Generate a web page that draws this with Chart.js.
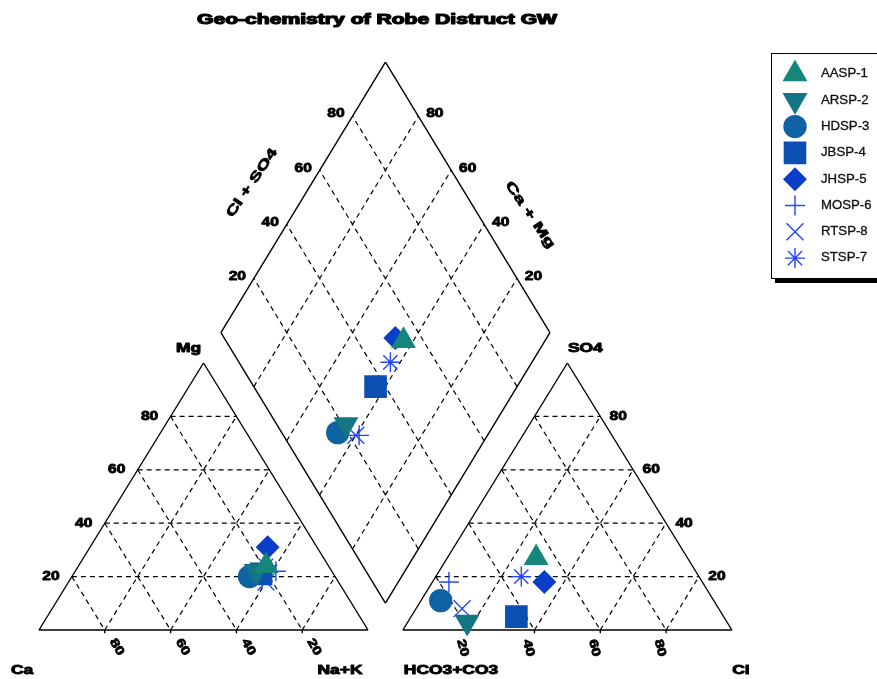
<!DOCTYPE html>
<html><head><meta charset="utf-8">
<script src="https://cdn.jsdelivr.net/npm/chart.js@4"></script>
<style>html,body{margin:0;padding:0;background:#fff;overflow:hidden}#wrap{width:877px;height:679px}</style>
</head><body><div id="wrap"><canvas id="c" width="877" height="679"></canvas></div>
<script>
// ---------- data (percent of meq) ----------
const samples = ['AASP-1','ARSP-2','HDSP-3','JBSP-4','JHSP-5','MOSP-6','RTSP-8','STSP-7'];
const caPct   = [19, 23, 26, 22, 15, 17, 22, 19];
const mgPct   = [24, 22, 20, 21, 31, 22, 18, 24];
const naKPct  = [57, 55, 54, 57, 54, 61, 60, 57];
const hco3Pct = [46, 79, 83, 63, 48, 77, 78, 54];
const so4Pct  = [27,  3, 11,  5, 18, 18,  8, 20];
const clPct   = [27, 18,  6, 32, 34,  5, 14, 26];
const gridTicks  = [20, 40, 60, 80];
const tickLabels = ['20', '40', '60', '80'];
const titleText = 'Geo-chemistry of Robe Distruct GW';

// ---------- styles ----------
const markerStyles = [
  {pointStyle:'triangle', rotation:0,   radius:13, color:'#15877a'},
  {pointStyle:'triangle', rotation:180, radius:13, color:'#147585'},
  {pointStyle:'circle',   rotation:0,   radius:11, color:'#0f62a3'},
  {pointStyle:'rect',     rotation:0,   radius:15, color:'#0b4fb3'},
  {pointStyle:'rectRot',  rotation:0,   radius:11, color:'#0a3ec9'},
  {pointStyle:'cross',    rotation:0,   radius:10, color:'#2444ff'},
  {pointStyle:'crossRot', rotation:0,   radius:12, color:'#2444ff'},
  {pointStyle:'star',     rotation:0,   radius:10, color:'#2444ff'}
];

// ---------- Piper geometry (units: triangle base = 1 in x, triangle height = 1 in y) ----------
const GAP = 0.106;
const DIA = {bx: 1 + GAP / 2, by: 0.101, h: 1.013};
function cationXY(ca, mg, nak) { return {x: nak / 100 + mg / 200, y: mg / 100}; }
function anionXY(hco3, so4, cl) { return {x: 1 + GAP + cl / 100 + so4 / 200, y: so4 / 100}; }
function diamondXY(camg, clso4) {
  return {x: DIA.bx + 0.5 * (clso4 - camg) / 100, y: DIA.by + DIA.h * (camg + clso4) / 100};
}

const datasets = [];
function seg(p, q, dashed) {
  datasets.push({
    data: [p, q], showLine: true, borderColor: '#000', borderWidth: dashed ? 1.2 : 1.4,
    borderDash: dashed ? [5, 4] : [], pointRadius: 0, pointHoverRadius: 0,
    fill: false, order: 10, clip: false, tension: 0
  });
}
// outlines
seg(cationXY(100,0,0), cationXY(0,0,100)); seg(cationXY(0,0,100), cationXY(0,100,0)); seg(cationXY(0,100,0), cationXY(100,0,0));
seg(anionXY(100,0,0), anionXY(0,0,100)); seg(anionXY(0,0,100), anionXY(0,100,0)); seg(anionXY(0,100,0), anionXY(100,0,0));
seg(diamondXY(0,0), diamondXY(100,0)); seg(diamondXY(100,0), diamondXY(100,100));
seg(diamondXY(100,100), diamondXY(0,100)); seg(diamondXY(0,100), diamondXY(0,0));
// grids
gridTicks.forEach(v => {
  seg(cationXY(100 - v, v, 0), cationXY(0, v, 100 - v), true);
  seg(cationXY(v, 100 - v, 0), cationXY(v, 0, 100 - v), true);
  seg(cationXY(100 - v, 0, v), cationXY(0, 100 - v, v), true);
  seg(anionXY(100 - v, v, 0), anionXY(0, v, 100 - v), true);
  seg(anionXY(v, 100 - v, 0), anionXY(v, 0, 100 - v), true);
  seg(anionXY(100 - v, 0, v), anionXY(0, 100 - v, v), true);
  seg(diamondXY(v, 0), diamondXY(v, 100), true);
  seg(diamondXY(0, v), diamondXY(100, v), true);
  // small base ticks
  const c = cationXY(100 - v, 0, v), a = anionXY(100 - v, 0, v);
  seg(c, {x: c.x, y: c.y - 0.012}); seg(a, {x: a.x, y: a.y - 0.012});
});
// sample points
samples.forEach((name, i) => {
  const st = markerStyles[i];
  datasets.push({
    label: name,
    data: [
      cationXY(caPct[i], mgPct[i], naKPct[i]),
      anionXY(hco3Pct[i], so4Pct[i], clPct[i]),
      diamondXY(caPct[i] + mgPct[i], so4Pct[i] + clPct[i])
    ],
    showLine: false, pointStyle: st.pointStyle, rotation: st.rotation,
    pointRadius: st.radius, pointHoverRadius: st.radius,
    backgroundColor: st.color, borderColor: st.color,
    pointBackgroundColor: st.color, pointBorderColor: st.color,
    pointBorderWidth: 1.4, order: 0, clip: false
  });
});

const FONT = '"Liberation Sans", Arial, sans-serif';
function drawText(ctx, text, x, y, o) {
  ctx.save();
  ctx.translate(x, y);
  ctx.rotate(o.rot || 0);
  ctx.font = o.font;
  let sx = o.sx || 1;
  if (o.width) sx = o.width / ctx.measureText(text).width;
  ctx.scale(sx, 1);
  ctx.fillStyle = o.color || '#000';
  ctx.textAlign = o.align || 'center';
  ctx.textBaseline = 'middle';
  ctx.fillText(text, 0, 0);
  if (o.heavy) {
    ctx.strokeStyle = o.color || '#000';
    ctx.lineWidth = o.heavy;
    ctx.lineJoin = 'round';
    ctx.strokeText(text, 0, 0);
  }
  ctx.restore();
}

const decorPlugin = {
  id: 'decor',
  afterDatasetsDraw(chart) {
    const ctx = chart.ctx, sx = chart.scales.x, sy = chart.scales.y;
    const P = p => ({x: sx.getPixelForValue(p.x), y: sy.getPixelForValue(p.y)});
    const tickFont = 'bold 12px ' + FONT, labFont = 'bold 12px ' + FONT;
    const tk = {font: tickFont, sx: 1.3, heavy: 0.8};
    // title
    drawText(ctx, titleText, 377, 20, {font: 'bold 14px ' + FONT, width: 360, heavy: 1.2});
    gridTicks.forEach((v, k) => {
      let p = P(cationXY(100 - v, v, 0));
      drawText(ctx, tickLabels[k], p.x - 21, p.y, tk);
      p = P(cationXY(100 - v, 0, v));
      drawText(ctx, tickLabels[gridTicks.length - 1 - k], p.x + 12, 647, {...tk, rot: Math.PI / 3});
      p = P(anionXY(0, v, 100 - v));
      drawText(ctx, tickLabels[k], p.x + 18, p.y, tk);
      p = P(anionXY(100 - v, 0, v));
      drawText(ctx, tickLabels[k], p.x - 6, 648, {...tk, rot: Math.PI * 0.42});
      p = P(diamondXY(100, v));
      drawText(ctx, tickLabels[k], p.x - 16.5, p.y - 2, tk);
      p = P(diamondXY(v, 100));
      drawText(ctx, tickLabels[k], p.x + 16.5, p.y - 2, tk);
    });
    const lb = {font: labFont, sx: 1.45, heavy: 0.9};
    let ap = P(cationXY(0, 100, 0));
    drawText(ctx, 'Mg', ap.x - 15, ap.y - 14, lb);
    ap = P(anionXY(0, 100, 0));
    drawText(ctx, 'SO4', ap.x + 18, ap.y - 14, lb);
    drawText(ctx, 'Ca', 22, 671, lb);
    drawText(ctx, 'Na+K', 340, 671, lb);
    drawText(ctx, 'HCO3+CO3', 451, 671, lb);
    drawText(ctx, 'Cl', 741, 671, lb);
    drawText(ctx, 'Cl + SO4', 252, 183, {font: 'bold 13px ' + FONT, width: 80, rot: -Math.PI * 0.31, heavy: 0.8});
    drawText(ctx, 'Ca + Mg', 530, 215, {font: 'bold 13px ' + FONT, width: 78, rot: Math.PI * 0.31, heavy: 0.8});

    // legend box
    ctx.save();
    ctx.fillStyle = '#000';
    ctx.fillRect(775, 57, 130, 226);
    ctx.fillStyle = '#fff';
    ctx.fillRect(771, 53, 130, 226);
    ctx.strokeStyle = '#000'; ctx.lineWidth = 1;
    ctx.strokeRect(771.5, 53.5, 130, 225);
    ctx.restore();
    samples.forEach((name, i) => {
      const st = markerStyles[i];
      const y = 74 + i * 26.3;
      ctx.save();
      ctx.fillStyle = st.color; ctx.strokeStyle = st.color; ctx.lineWidth = 1.4;
      Chart.helpers.drawPoint(ctx, {pointStyle: st.pointStyle, rotation: st.rotation, radius: st.radius, borderWidth: 1.4}, 795, y);
      ctx.restore();
      drawText(ctx, name, 821, y, {font: '12px ' + FONT, sx: 1.1, align: 'left', color: '#111', heavy: 0.3});
    });
  }
};

new Chart(document.getElementById('c'), {
  type: 'scatter',
  data: {datasets},
  options: {
    responsive: false, animation: false, events: [],
    layout: {padding: 0, autoPadding: false},
    plugins: {legend: {display: false}, tooltip: {enabled: false}, title: {display: false}},
    scales: {
      x: {type: 'linear', display: false, min: -39 / 329, max: 838 / 329},
      y: {type: 'linear', display: false, min: -49 / 267, max: 630 / 267}
    }
  },
  plugins: [decorPlugin]
});
</script>
</body></html>
